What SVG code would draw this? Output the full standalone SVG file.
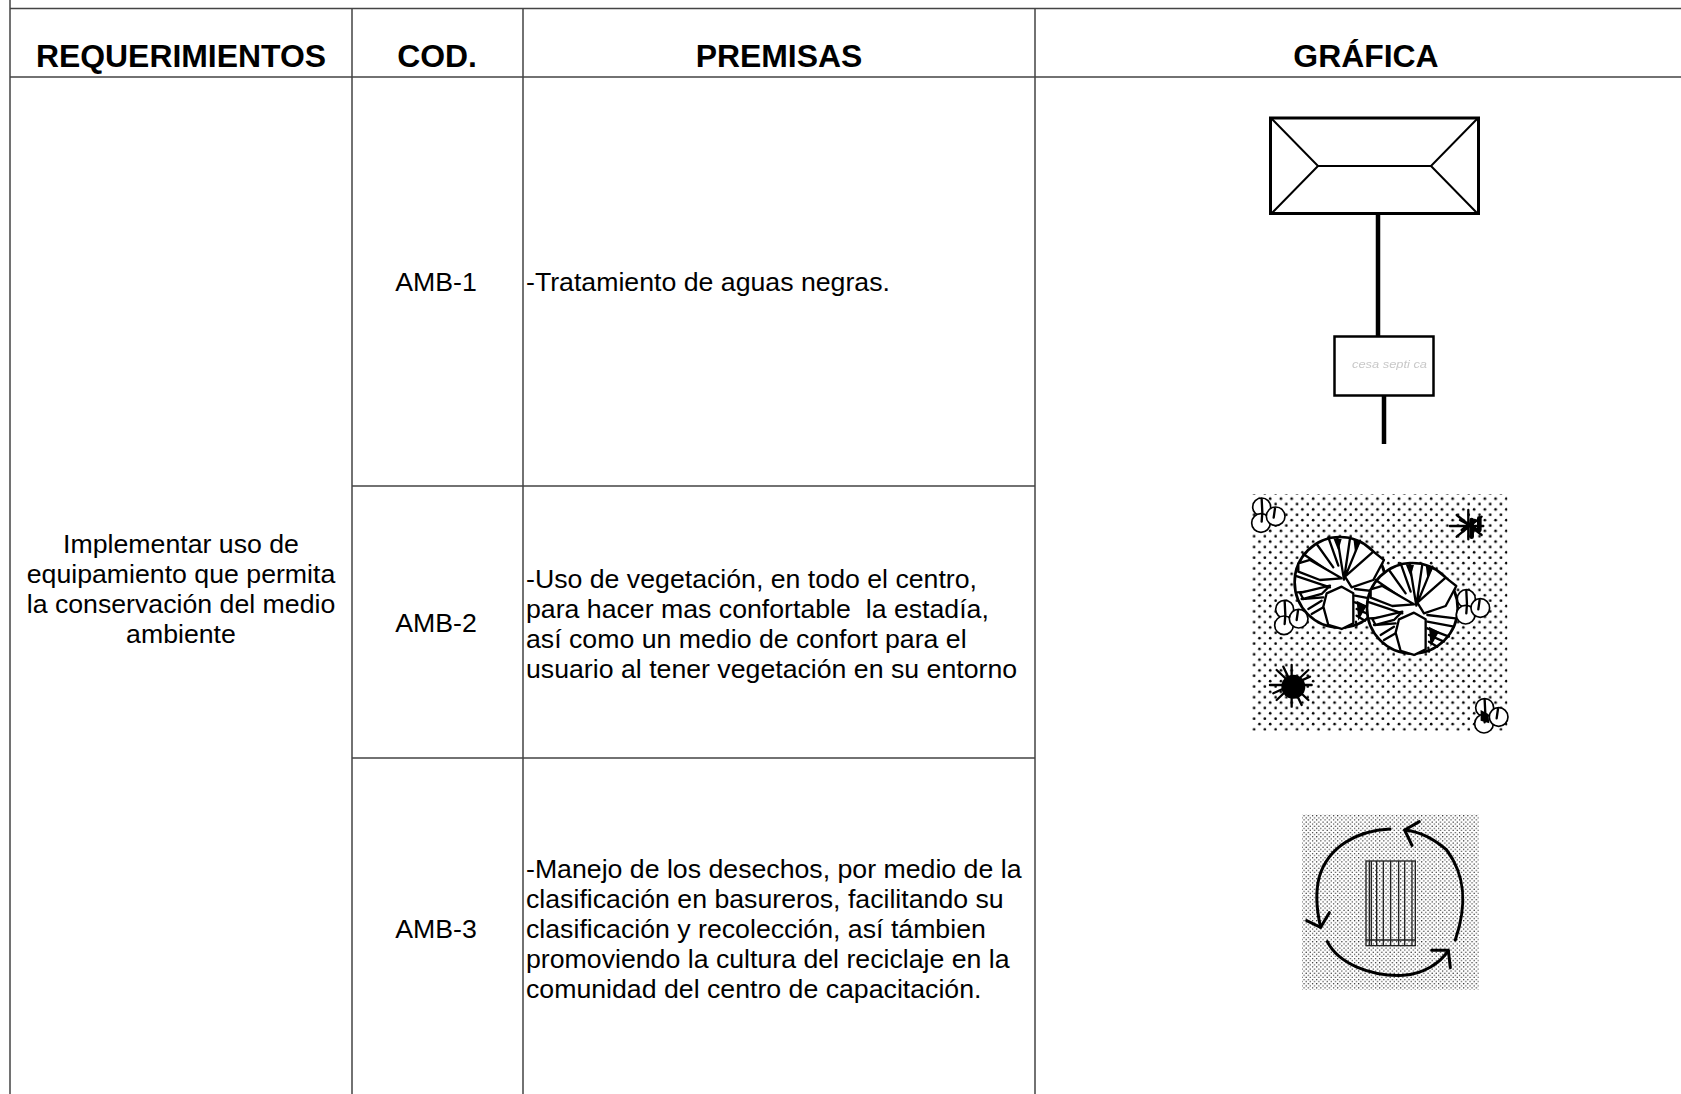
<svg xmlns="http://www.w3.org/2000/svg" xmlns:xlink="http://www.w3.org/1999/xlink" width="1681" height="1094" viewBox="0 0 1681 1094">
<style>
text{font-family:"Liberation Sans",Arial,sans-serif;fill:#000}
.h{font-size:31.9px;font-weight:bold;text-anchor:middle}
.b{font-size:26.7px}
.c{font-size:26.7px;text-anchor:middle}
.g{stroke:#444;stroke-width:1.5;fill:none}
.k{fill:#fff;stroke:#000;stroke-linejoin:round}
.z{fill:none;stroke:#000;stroke-width:7;stroke-linecap:round;stroke-linejoin:round}
.soft{filter:url(#soft)}
#ghost{fill:#c8c8c8;font-size:11.500px;font-style:italic}
</style>
<defs>
<filter id="soft" x="-5%" y="-5%" width="110%" height="110%"><feGaussianBlur stdDeviation="0.45"/></filter>
<pattern id="dots" width="32.200" height="32.200" patternUnits="userSpaceOnUse">
<circle cx="8" cy="8" r="4" fill="#000"/><circle cx="24.100" cy="24.100" r="4" fill="#000"/>
</pattern>
<pattern id="fine" width="12.600" height="12.600" patternUnits="userSpaceOnUse">
<rect width="12.600" height="12.600" fill="#fff"/><circle cx="3" cy="3" r="2" fill="#111"/><circle cx="9.300" cy="9.300" r="2" fill="#111"/>
</pattern>
<g id="tree">
<circle cx="0" cy="0" r="136" fill="#fff" stroke="#000" stroke-width="8"/>
<path class="z" d="M12-8-8-132M12-8 30-132M12-8 60-125M-35-135-5-50M-70-115-20-45M-110-85-30-30M-135-20-30 15M-128 30-50 25M-115 50-50 45M-95 80-55 55M-85 95-50 75M45 20 130 30M45 40 125 55M45 60 110 85M50 80 95 100M50 100 75 115M48 118 50 130"/>
<path d="M100-85 132-55 95-60ZM40-132 62-120 45-90ZM-20-132 5-130-5-95ZM50 55 80 70 55 115Z" fill="#000"/>
<path class="k" stroke-width="7" d="M-125-57-90-67 5-12-60-7-125-32Z"/>
<path class="k" stroke-width="7" d="M15-17 100-92 132-67 100-7 35 15Z"/>
<path class="k" stroke-width="7" d="M-40 33 5 13 40 33 40 123 5 140-35 128-50 73Z"/>
<path class="k" stroke-width="7" d="M-120 32-30 10-55 35-110 50Z"/>
</g>
<g id="shrub">
<circle class="k" stroke-width="5" cx="-18" cy="-24" r="27"/>
<circle class="k" stroke-width="5" cx="-20" cy="24" r="28"/>
<circle class="k" stroke-width="5" cx="24" cy="4" r="28"/>
<path class="z" stroke-width="4" d="M-18-48-16-8-18 20M22-20 18 8"/>
</g>
</defs>

<g id="grid" class="g">
<path d="M10 0V1094M10 8.5H1681M10 77H1681M352 8.5V1094M523 8.5V1094M1035 8.5V1094M352 486H1035M352 758H1035"/>
</g>

<g id="headers">
<text class="h" x="181" y="67">REQUERIMIENTOS</text>
<text class="h" x="437" y="67">COD.</text>
<text class="h" x="779" y="67">PREMISAS</text>
<text class="h" x="1366" y="67">GRÁFICA</text>
</g>

<g id="requerimiento">
<text class="c" x="181" y="553">Implementar uso de</text>
<text class="c" x="181" y="583">equipamiento que permita</text>
<text class="c" x="181" y="613">la conservación del medio</text>
<text class="c" x="181" y="643">ambiente</text>
</g>

<g id="amb1">
<text class="c" x="436" y="291">AMB-1</text>
<text class="b" x="526" y="291">-Tratamiento de aguas negras.</text>
</g>
<g id="amb2">
<text class="c" x="436" y="632">AMB-2</text>
<text class="b" x="526" y="588">-Uso de vegetación, en todo el centro,</text>
<text class="b" x="526" y="618" xml:space="preserve">para hacer mas confortable  la estadía,</text>
<text class="b" x="526" y="648">así como un medio de confort para el</text>
<text class="b" x="526" y="678">usuario al tener vegetación en su entorno</text>
</g>
<g id="amb3">
<text class="c" x="436" y="938">AMB-3</text>
<text class="b" x="526" y="878">-Manejo de los desechos, por medio de la</text>
<text class="b" x="526" y="908">clasificación en basureros, facilitando su</text>
<text class="b" x="526" y="938">clasificación y recolección, así támbien</text>
<text class="b" x="526" y="968">promoviendo la cultura del reciclaje en la</text>
<text class="b" x="526" y="998">comunidad del centro de capacitación.</text>
</g>

<g id="grafica1" fill="none" stroke="#000" class="soft">
<rect x="1270.5" y="118" width="208" height="95.500" stroke-width="3"/>
<path stroke-width="2" d="M1271 118 1318 166H1431L1478 118M1271 214 1318 166M1478 214 1431 166"/>
<path stroke-width="4.500" d="M1378 214V336M1384 395V444"/>
<rect x="1334.500" y="336.500" width="99" height="59" stroke-width="2.500" fill="#fff"/>
<text id="ghost" x="1352" y="368" stroke="none" textLength="75" lengthAdjust="spacingAndGlyphs">cesa septi ca</text>
</g>

<g id="grafica2" class="soft" transform="translate(1230 480) scale(.3333)">
<rect x="66" y="42" width="766" height="710" fill="url(#dots)"/>
<use xlink:href="#tree" x="330" y="307"/>
<use xlink:href="#tree" x="547" y="385"/>
<use xlink:href="#shrub" x="113" y="105"/>
<use xlink:href="#shrub" x="182" y="412"/>
<use xlink:href="#shrub" x="727" y="380"/>
<use xlink:href="#shrub" x="782" y="707"/>
<path fill="#000" d="M752 690 775 702 778 730 752 722Z"/>
<g class="z">
<path d="M660 138H760M715 90V178M680 105 755 165M680 170 755 110M690 120 745 150M695 150 735 120"/>
<path stroke-width="14" d="M725 120V170M748 115V150"/>
<path d="M120 615H245M185 555V680M140 570 235 660M140 660 235 570M160 560 215 675M130 640 240 590"/>
</g>
<circle cx="190" cy="620" r="36" fill="#000"/>
</g>

<g id="grafica3" class="soft" transform="translate(1280 800) scale(.3333)">
<rect x="66" y="43" width="530" height="527" fill="url(#fine)"/>
<g stroke="#222" stroke-width="4" fill="none">
<rect x="258" y="183" width="148" height="254"/>
<path d="M268 183V437M274 183V437M290 183V437M310 183V437M332 183V437M356 183V437M374 183V437M396 183V437M258 420H406"/>
</g>
<g fill="none" stroke="#000" stroke-width="9" stroke-linecap="round" stroke-linejoin="round">
<path d="M330 87C230 92 145 140 118 230 105 280 112 340 122 382"/>
<path d="M80 362 122 382 148 338"/>
<path d="M142 425C175 490 270 530 370 526 430 522 480 490 505 452"/>
<path d="M455 451H505L511 503"/>
<path d="M526 420C560 320 560 230 500 150 460 115 420 95 374 90"/>
<path d="M418 65 374 90 396 136"/>
</g>
</g>
</svg>
